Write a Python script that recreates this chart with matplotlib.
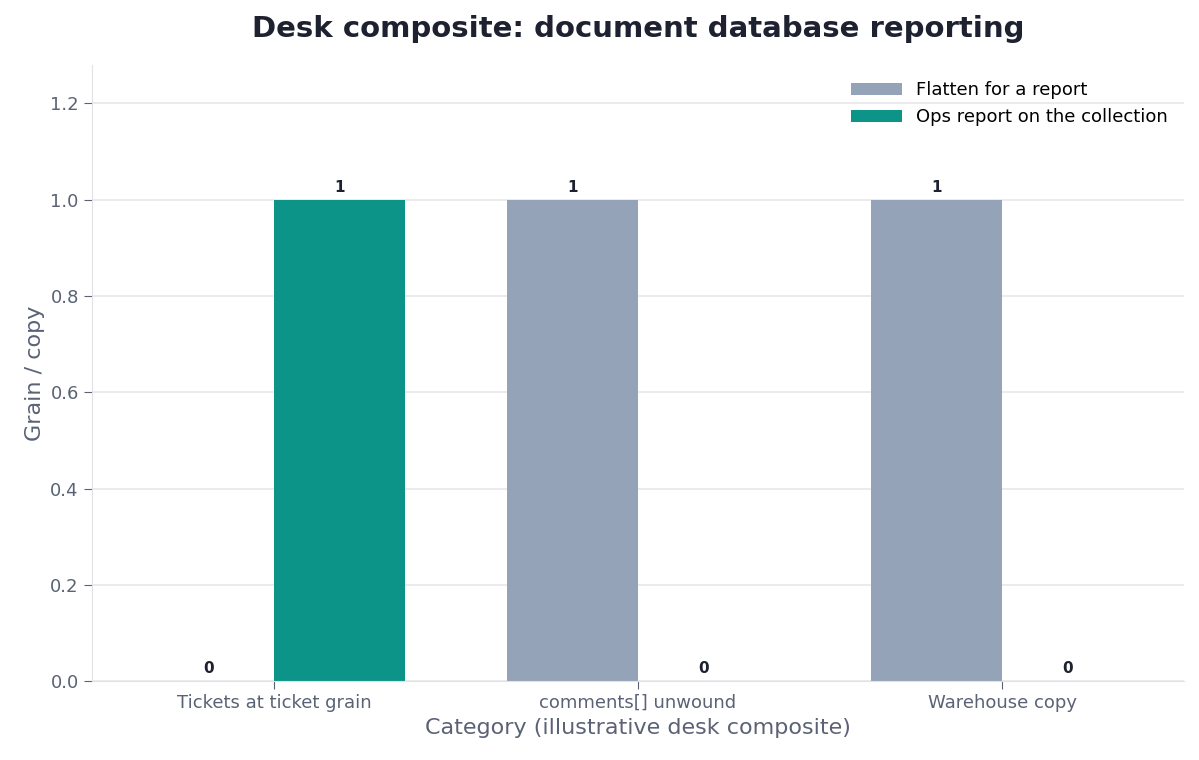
import matplotlib
matplotlib.use("Agg")
import matplotlib.pyplot as plt
import numpy as np

categories = ["Tickets at ticket grain", "comments[] unwound", "Warehouse copy"]
series_names = ["Flatten for a report", "Ops report on the collection"]
flatten = [0, 1, 1]
ops = [1, 0, 0]
colors = ["#94a3b8", "#0d9488"]

fig = plt.figure(figsize=(11.99, 7.6), dpi=100)
ax = fig.add_axes([92/1199, 1-681/760, (1184-92)/1199, (681-65)/760])
x = np.arange(len(categories))
w = 0.36
for vals, off, c, n in [(flatten, -w/2, colors[0], series_names[0]), (ops, w/2, colors[1], series_names[1])]:
    bars = ax.bar(x + off, vals, w, color=c, label=n)
    for b, v in zip(bars, vals):
        ax.text(b.get_x() + b.get_width()/2, v + 0.01, f"{v}", ha="center", va="bottom",
                fontsize=11, fontweight="bold", color="#1e2130")

ax.set_xlim(-0.5, 2.5)
ax.set_ylim(0, 1.28)
ax.set_xticks(x)
ax.set_xticklabels(categories)
ax.set_yticks(np.arange(0, 1.21, 0.2))
ax.tick_params(colors="#5a6275", labelsize=13, length=6)
for t in ax.get_xticklines():
    t.set_color("#5a6275")
ax.yaxis.grid(True, color="#e8e8ec", linewidth=1.2)
ax.set_axisbelow(True)
for s in ["top", "right"]:
    ax.spines[s].set_visible(False)
for s in ["left", "bottom"]:
    ax.spines[s].set_color("#e2e2e6")
ax.set_xlabel("Category (illustrative desk composite)", fontsize=16, color="#5a6275")
ax.set_ylabel("Grain / copy", fontsize=16, color="#5a6275")
ax.set_title("Desk composite: document database reporting", fontsize=21, fontweight="bold",
             color="#1e2130", pad=20)
ax.legend(loc="upper right", frameon=False, fontsize=13, handlelength=2.8, bbox_to_anchor=(1.0, 1.0))
fig.savefig("out.png", dpi=100)
